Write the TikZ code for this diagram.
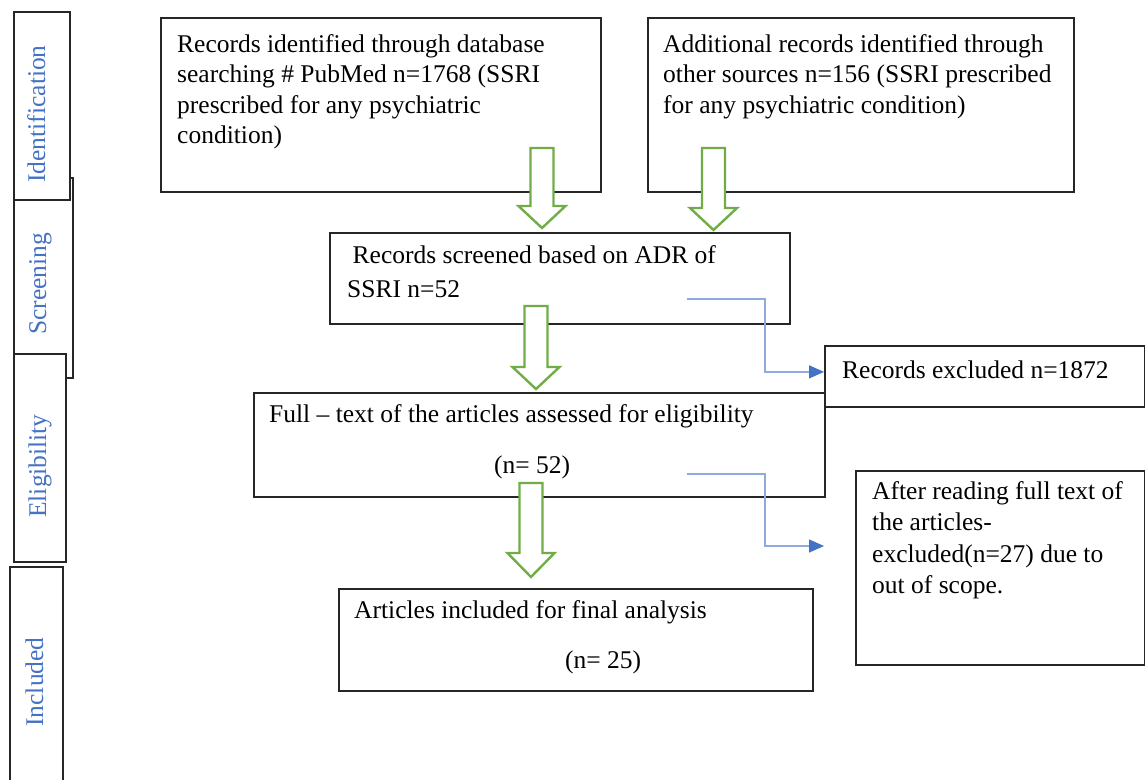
\documentclass[tikz,border=0pt]{standalone}
\usepackage{fontspec}
\setmainfont{Liberation Serif}
\usetikzlibrary{arrows.meta}
\definecolor{gr}{HTML}{70AD47}
\definecolor{bl}{HTML}{4472C4}
\definecolor{bll}{HTML}{8FAADC}
\newcommand\grnarrow[4]{\draw[garrow] (#1-11.5,#2) -- (#1+11.5,#2) -- (#1+11.5,#3) -- (#1+23.5,#3) -- (#1,#4) -- (#1-23.5,#3) -- (#1-11.5,#3) -- cycle;}
\begin{document}
\begin{tikzpicture}[x=1pt,y=-1pt,
  box/.style={draw=black!85, line width=1.8pt, fill=white, rectangle, inner sep=0pt, anchor=north west},
  txt/.style={anchor=north west, align=left, inner sep=0pt, font=\fontsize{25.5}{30.5}\selectfont},
  txtb/.style={anchor=base west, inner sep=0pt, font=\fontsize{25.5}{30.5}\selectfont},
  lab/.style={rotate=90, anchor=base, inner sep=0pt, text=bl, font=\fontsize{25.5}{30}\selectfont},
  garrow/.style={draw=gr, line width=2.4pt, fill=white, line join=miter},
  conn/.style={draw=bll, line width=1.4pt, -{Triangle[length=15pt,width=13pt,color=bl]}}]
\useasboundingbox (0,0) rectangle (1145,779);
\clip (0,0) rectangle (1145,779);

% stage boxes on the left
\node[box, minimum width=59, minimum height=200] (scrB) at (13,177) {};
\node[box, minimum width=56, minimum height=188] (idB) at (13,11) {};
\node[box, minimum width=52, minimum height=208] (elB) at (13,353) {};
\node[box, minimum width=53, minimum height=260] (inB) at (9,566) {};
\node[lab] (idL) at (45,114) {Identification};
\node[lab] (scrL) at (46,284) {Screening};
\node[lab] (elL) at (46,466) {Eligibility};
\node[lab] (inL) at (43,682) {Included};

% main boxes
\node[box, minimum width=440, minimum height=174] (A) at (160,17) {};
\node[txt] (At) at (177,30.6) {\strut Records identified through database\\searching \# PubMed n=1768 (SSRI\\prescribed for any psychiatric\\condition)};

\node[box, minimum width=426, minimum height=174] (B) at (647,17) {};
\node[txt] (Bt) at (663,30.6) {\strut Additional records identified through\\other sources n=156 (SSRI prescribed\\for any psychiatric condition)};

\node[box, minimum width=460, minimum height=91] (C) at (329,232) {};
\node[txt, font=\fontsize{25.5}{34}\selectfont] (Ct) at (347,239.2) {\strut\hspace{5.5pt}Records screened based on ADR of\\SSRI n=52};

\node[box, minimum width=320, minimum height=61] (D) at (824,345) {};
\node[txtb] (Dt) at (842,378) {Records excluded n=1872};

\node[box, minimum width=571, minimum height=104] (E) at (253,392) {};
\node[txtb] (Et) at (269,422) {Full -- text of the articles assessed for eligibility};
\node[txtb] (En) at (494,473) {(n= 52)};

\node[box, minimum width=289, minimum height=194] (F) at (855,470) {};
\node[txt, font=\fontsize{25.5}{31.5}\selectfont] (Ft) at (872,476.9) {\strut After reading full text of\\the articles-\\excluded(n=27) due to\\out of scope.};

\node[box, minimum width=474, minimum height=102] (G) at (338,588) {};
\node[txtb] (Gt) at (354,618) {Articles included for final analysis};
\node[txtb] (Gn) at (565,668) {(n= 25)};

% green block arrows
\grnarrow{542}{148}{206}{228}
\grnarrow{713.5}{148}{208}{230}
\grnarrow{536}{306}{367}{389}
\grnarrow{531}{483}{553}{577}

% blue connectors
\coordinate (s1) at (687,299);
\coordinate (s2) at (687,474);
\coordinate (e2) at (824,546);
\draw[conn] (s1) -- ++(78,0) |- ([yshift=4.5pt]D.west);
\draw[conn] (s2) -- ++(78,0) |- (e2);
\end{tikzpicture}
\end{document}
